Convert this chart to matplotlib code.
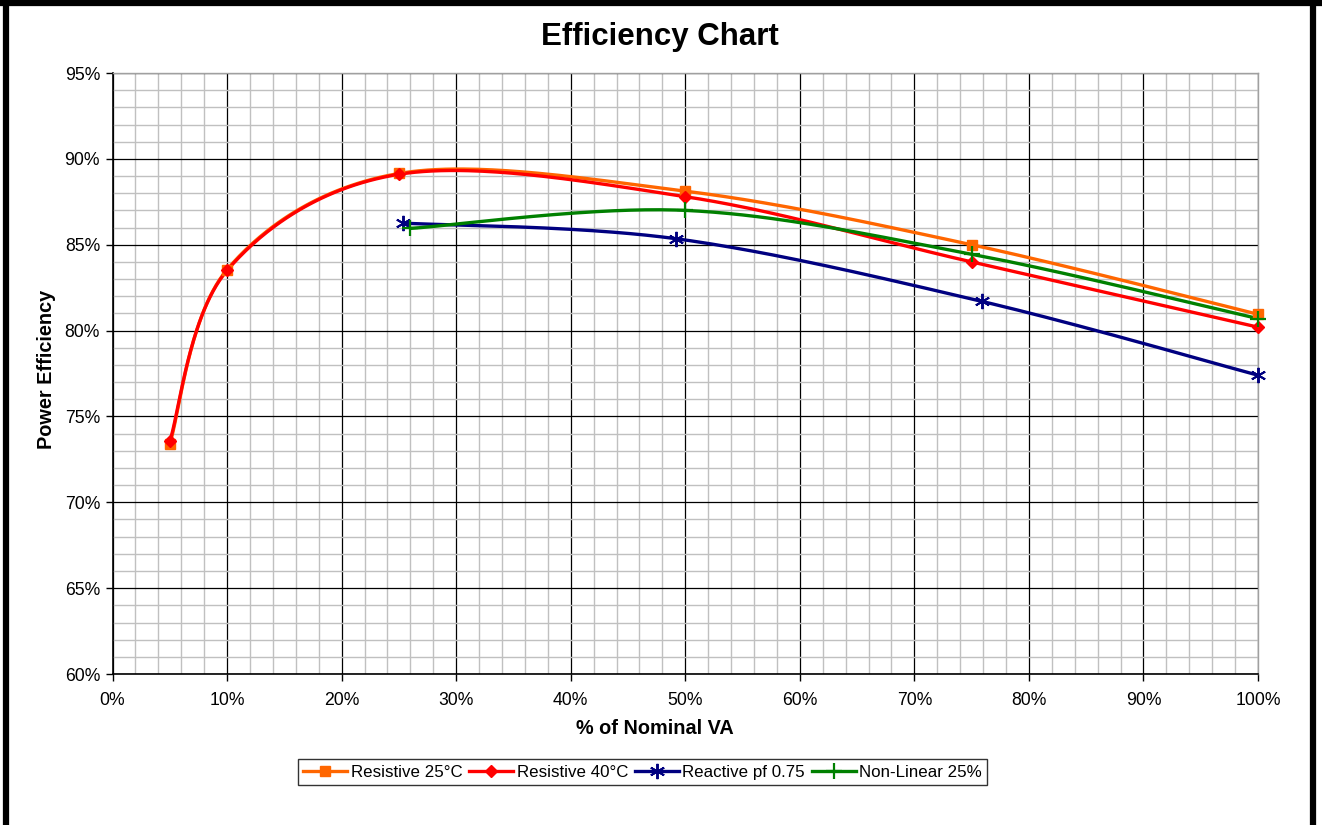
import numpy as np
import matplotlib
matplotlib.use("Agg")
import matplotlib.pyplot as plt
from matplotlib.ticker import MultipleLocator, FuncFormatter
from matplotlib.lines import Line2D

plt.rcParams['font.family'] = ['Liberation Sans', 'DejaVu Sans']

# ---- data (x in % of nominal VA, y in % efficiency) ----
res25_x = [5, 10, 25, 50, 75, 100]
res25_y = [73.4, 83.55, 89.15, 88.12, 85.0, 80.95]

res40_x = [5, 10, 25, 50, 75, 100]
res40_y = [73.55, 83.5, 89.1, 87.8, 84.0, 80.2]

react_x = [25.4, 49.2, 75.9, 100]
react_y = [86.26, 85.35, 81.7, 77.4]

nonlin_x = [26.0, 50, 75, 100]
nonlin_y = [85.95, 87.0, 84.45, 80.7]

labels = ["Resistive 25°C", "Resistive 40°C", "Reactive pf 0.75", "Non-Linear 25%"]
colors = ["#FF6600", "#FF0000", "#000080", "#008000"]


def smooth(xs, ys, n=60):
    """Excel-like smoothed line (Catmull-Rom Bezier) through the points."""
    P = np.column_stack([xs, ys]).astype(float)
    m = len(P)
    out = [P[0]]
    t = np.linspace(0, 1, n)[1:]
    for i in range(m - 1):
        p0 = P[i - 1] if i > 0 else P[i]
        p1 = P[i]
        p2 = P[i + 1]
        p3 = P[i + 2] if i + 2 < m else P[i + 1]
        c1 = p1 + (p2 - p0) / 6.0
        c2 = p2 - (p3 - p1) / 6.0
        tt = t[:, None]
        seg = ((1 - tt) ** 3) * p1 + 3 * ((1 - tt) ** 2) * tt * c1 + 3 * (1 - tt) * tt ** 2 * c2 + tt ** 3 * p2
        out.extend(seg)
    out = np.array(out)
    return out[:, 0], out[:, 1]


fig = plt.figure(figsize=(13.22, 8.25), dpi=100)
ax = fig.add_axes([0.0851, 0.1830, 0.8665, 0.7285])

ax.set_xlim(0, 100)
ax.set_ylim(60, 95)
ax.xaxis.set_major_locator(MultipleLocator(10))
ax.xaxis.set_minor_locator(MultipleLocator(2))
ax.yaxis.set_major_locator(MultipleLocator(5))
ax.yaxis.set_minor_locator(MultipleLocator(1))
ax.xaxis.set_major_formatter(FuncFormatter(lambda v, p: f"{v:.0f}%"))
ax.yaxis.set_major_formatter(FuncFormatter(lambda v, p: f"{v:.0f}%"))

ax.grid(which='minor', color='#C0C0C0', linewidth=1.0, zorder=0)
ax.grid(which='major', color='#000000', linewidth=0.9, zorder=0.5)
ax.set_axisbelow(True)

ax.tick_params(which='major', direction='out', length=5, width=1, labelsize=12.7, colors='black')
ax.tick_params(axis='x', which='major', pad=8)
ax.tick_params(axis='y', which='major', pad=4)
ax.tick_params(which='minor', length=0)

for s in ['left', 'bottom']:
    ax.spines[s].set_color('black')
    ax.spines[s].set_linewidth(1.2)
for s in ['top', 'right']:
    ax.spines[s].set_color('#A0A0A0')
    ax.spines[s].set_linewidth(1.0)

series = [
    (res25_x, res25_y, 's', 7, 1.0),
    (res40_x, res40_y, 'D', 6, 1.0),
    (react_x, react_y, (6, 2, 0), 11, 1.4),
    (nonlin_x, nonlin_y, '+', 12, 1.6),
]

handles = []
for (xs, ys, mk, ms, mew), col, lab in zip(series, colors, labels):
    sx, sy = smooth(xs, ys)
    ax.plot(sx, sy, color=col, linewidth=2.4, solid_capstyle='round', zorder=3)
    ax.plot(xs, ys, linestyle='none', marker=mk, markersize=ms, color=col,
            markeredgecolor=col, markeredgewidth=mew, zorder=4, clip_on=False)
    handles.append(Line2D([], [], color=col, linewidth=2.4, marker=mk, markersize=ms,
                          markeredgecolor=col, markeredgewidth=mew, label=lab))

ax.set_xlabel("% of Nominal VA", fontsize=14.3, fontweight='bold')
ax.xaxis.set_label_coords(0.4736, -0.0899)
ax.xaxis.label.set_va('center')
ax.set_ylabel("Power Efficiency", fontsize=14.3, fontweight='bold')
ax.yaxis.set_label_coords(-0.0575, 0.506)
ax.yaxis.label.set_va('center')

fig.text(0.4995, 0.955, "Efficiency Chart", ha='center', va='center', fontsize=22.5, fontweight='bold')

leg = fig.legend(handles=handles, loc='center', bbox_to_anchor=(0.486, 0.0642), ncol=4,
                 frameon=True, fancybox=False, edgecolor='black', fontsize=12.2,
                 handlelength=2.6, handletextpad=0.2, columnspacing=0.4,
                 borderpad=0.3, borderaxespad=0)
leg.get_frame().set_linewidth(1.0)

# outer chart border (left, top, right)
fig.add_artist(Line2D([0.0045, 0.0045], [0, 1], transform=fig.transFigure, color='black', linewidth=4.5))
fig.add_artist(Line2D([0, 1], [0.9965, 0.9965], transform=fig.transFigure, color='black', linewidth=4.5))
fig.add_artist(Line2D([0.9935, 0.9935], [0, 1], transform=fig.transFigure, color='black', linewidth=4.5))

fig.savefig("out.png", dpi=100)
